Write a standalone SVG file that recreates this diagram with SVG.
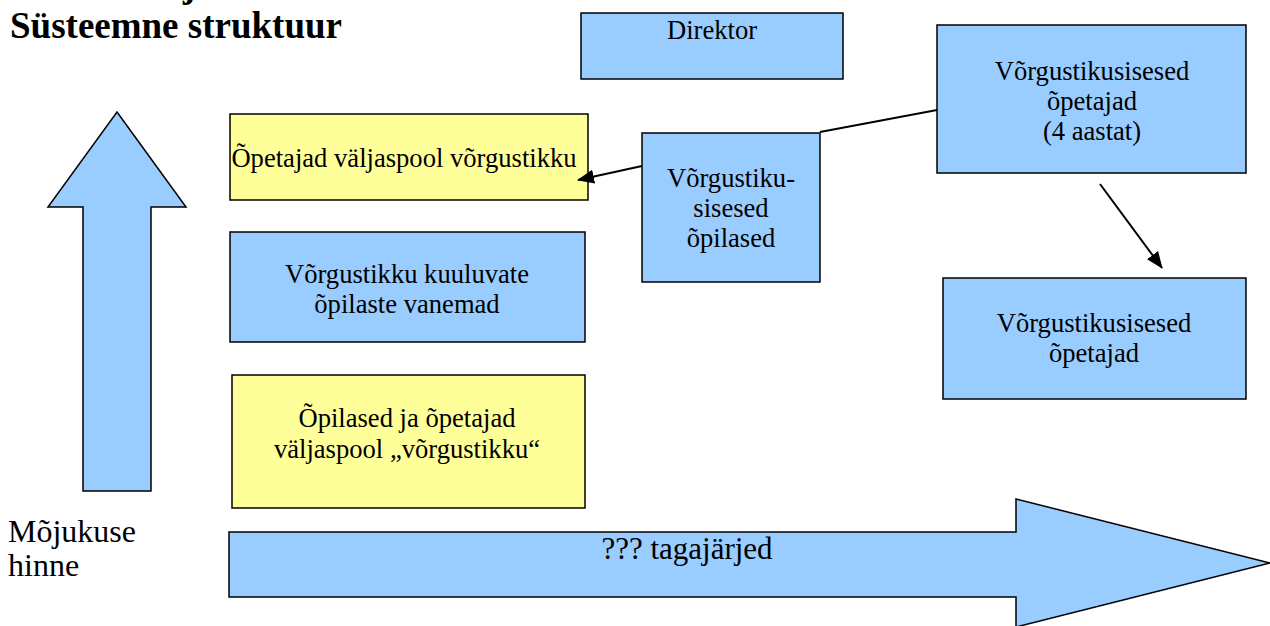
<svg xmlns="http://www.w3.org/2000/svg" width="1270" height="626" viewBox="0 0 1270 626">
<style>
.blue{fill:#99CCFF;stroke:#000;stroke-width:1.5}
.yellow{fill:#FFFF99;stroke:#000;stroke-width:1.5}
text{font-family:'Liberation Serif','Times New Roman','DejaVu Serif',serif}
.t{font-size:26.6px;fill:#000;text-anchor:middle}
.big{font-size:32px;fill:#000}
.title{font-size:37px;font-weight:bold;fill:#000}
.conn{stroke:#000;stroke-width:2;fill:none}
</style>
<defs>
<marker id="ah" markerWidth="18" markerHeight="14" refX="16" refY="7" orient="auto" markerUnits="userSpaceOnUse">
<path d="M0,0 L17,7 L0,14 Z" fill="#000"/>
</marker>
</defs>
<rect width="1270" height="626" fill="#fff"/>
<g id="title">
<text class="title" x="183" y="-3">j</text>
<text class="title" x="10" y="38">Süsteemne struktuur</text>
</g>
<g id="up-arrow">
<polygon class="blue" points="117,112 186,207 151,207 151,491 83,491 83,207 48,207"/>
</g>
<g id="axis-label">
<text class="big" x="8" y="542">Mõjukuse</text>
<text class="big" x="8" y="576">hinne</text>
</g>
<g id="right-arrow">
<polygon class="blue" points="229,532 1016,532 1016,499 1270,563 1016,627 1016,597 229,597"/>
<text x="687" y="559" font-size="31" text-anchor="middle">??? tagajärjed</text>
</g>
<g id="direktor">
<rect class="blue" x="581" y="13" width="262" height="66"/>
<text class="t" x="712" y="39">Direktor</text>
</g>
<g id="opetajad-valjaspool">
<rect class="yellow" x="230" y="114" width="358" height="86"/>
<text class="t" x="404" y="167">Õpetajad väljaspool võrgustikku</text>
</g>
<g id="vanemad">
<rect class="blue" x="230" y="232" width="355" height="110"/>
<text class="t" x="407" y="283">Võrgustikku kuuluvate</text>
<text class="t" x="407" y="313">õpilaste vanemad</text>
</g>
<g id="opilased-opetajad-valjaspool">
<rect class="yellow" x="232" y="375" width="353" height="133"/>
<text class="t" x="407" y="427">Õpilased ja õpetajad</text>
<text class="t" x="407" y="458">väljaspool „võrgustikku“</text>
</g>
<g id="vorgustikusisesed-opilased">
<rect class="blue" x="642" y="133" width="178" height="149"/>
<text class="t" x="731" y="187">Võrgustiku-</text>
<text class="t" x="731" y="217">sisesed</text>
<text class="t" x="731" y="247">õpilased</text>
</g>
<g id="opetajad-4-aastat">
<rect class="blue" x="937" y="25" width="309" height="148"/>
<text class="t" x="1092" y="80">Võrgustikusisesed</text>
<text class="t" x="1092" y="110">õpetajad</text>
<text class="t" x="1092" y="140">(4 aastat)</text>
</g>
<g id="vorgustikusisesed-opetajad">
<rect class="blue" x="943" y="278" width="303" height="121"/>
<text class="t" x="1094" y="332">Võrgustikusisesed</text>
<text class="t" x="1094" y="362">õpetajad</text>
</g>
<g id="connectors">
<line class="conn" x1="642" y1="166" x2="578" y2="180" marker-end="url(#ah)"/>
<line class="conn" x1="820" y1="132" x2="937" y2="110"/>
<line class="conn" x1="1100" y1="184" x2="1162" y2="268" marker-end="url(#ah)"/>
</g>
</svg>
